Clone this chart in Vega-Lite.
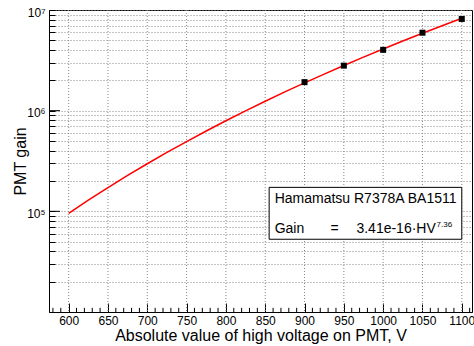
{
  "$schema": "https://vega.github.io/schema/vega-lite/v6.json",
  "width": 423,
  "height": 302,
  "autosize": "none",
  "padding": {"left": 49, "top": 10, "right": 2, "bottom": 34},
  "background": "white",
  "config": {
    "view": {"stroke": "black", "strokeWidth": 1},
    "font": "Liberation Sans",
    "axis": {
      "domainColor": "black",
      "tickColor": "black",
      "labelColor": "black",
      "titleColor": "black",
      "titleFontWeight": "normal",
      "titleFont": "Liberation Sans",
      "labelFont": "Liberation Sans",
      "gridColor": "#888888",
      "gridDash": [1, 2],
      "gridWidth": 1,
      "labelOverlap": false
    }
  },
  "datasets": {
    "curve": [
      {"hv": 600, "gain": 95500},
      {"hv": 625, "gain": 129000},
      {"hv": 650, "gain": 172100},
      {"hv": 675, "gain": 227300},
      {"hv": 700, "gain": 297000},
      {"hv": 725, "gain": 384500},
      {"hv": 750, "gain": 493400},
      {"hv": 775, "gain": 628200},
      {"hv": 800, "gain": 793500},
      {"hv": 825, "gain": 995200},
      {"hv": 850, "gain": 1239700},
      {"hv": 875, "gain": 1534700},
      {"hv": 900, "gain": 1888100},
      {"hv": 925, "gain": 2310100},
      {"hv": 950, "gain": 2810600},
      {"hv": 975, "gain": 3402500},
      {"hv": 1000, "gain": 4101100},
      {"hv": 1025, "gain": 4916000},
      {"hv": 1050, "gain": 5871000},
      {"hv": 1075, "gain": 6982900},
      {"hv": 1100, "gain": 8269700}
    ],
    "points": [
      {"hv": 900, "gain": 1920000},
      {"hv": 950, "gain": 2800000},
      {"hv": 1000, "gain": 4020000},
      {"hv": 1050, "gain": 5950000},
      {"hv": 1100, "gain": 8150000}
    ],
    "xmajor": [
      {"hv": 600}, {"hv": 650}, {"hv": 700}, {"hv": 750}, {"hv": 800}, {"hv": 850},
      {"hv": 900}, {"hv": 950}, {"hv": 1000}, {"hv": 1050}, {"hv": 1100}
    ],
    "xminor": [
      {"hv": 580}, {"hv": 590}, {"hv": 610}, {"hv": 620}, {"hv": 630}, {"hv": 640},
      {"hv": 660}, {"hv": 670}, {"hv": 680}, {"hv": 690}, {"hv": 710}, {"hv": 720},
      {"hv": 730}, {"hv": 740}, {"hv": 760}, {"hv": 770}, {"hv": 780}, {"hv": 790},
      {"hv": 810}, {"hv": 820}, {"hv": 830}, {"hv": 840}, {"hv": 860}, {"hv": 870},
      {"hv": 880}, {"hv": 890}, {"hv": 910}, {"hv": 920}, {"hv": 930}, {"hv": 940},
      {"hv": 960}, {"hv": 970}, {"hv": 980}, {"hv": 990}, {"hv": 1010}, {"hv": 1020},
      {"hv": 1030}, {"hv": 1040}, {"hv": 1060}, {"hv": 1070}, {"hv": 1080}, {"hv": 1090},
      {"hv": 1110}
    ],
    "ymajor": [
      {"gain": 100000}, {"gain": 1000000}
    ],
    "box": [
      {"x1": 855, "x2": 1100, "y1": 52800, "y2": 173000}
    ],
    "texts": [
      {"hv": 862, "gain": 131500, "t": "Hamamatsu R7378A BA1511"},
      {"hv": 862, "gain": 66400, "t": "Gain"},
      {"hv": 933, "gain": 66400, "t": "="},
      {"hv": 966, "gain": 66400, "t": "3.41e-16·HV"}
    ],
    "sup": [
      {"hv": 1068, "gain": 72600, "t": "7.36"}
    ]
  },
  "layer": [
    {
      "data": {"name": "xmajor"},
      "mark": {"type": "rule", "color": "#888888", "strokeDash": [1, 2], "strokeWidth": 1},
      "encoding": {
        "x": {
          "field": "hv", "type": "quantitative",
          "scale": {"domain": [575, 1113], "nice": false, "zero": false},
          "axis": {
            "title": "Absolute value of high voltage on PMT, V",
            "titleFontSize": 16,
            "titlePadding": 1,
            "labelFontSize": 12,
            "labelPadding": 12,
            "values": [600,650,700,750,800,850,900,950,1000,1050,1100],
            "labelOverlap": false,
            "labelFlush": false,
            "grid": false,
            "tickSize": -9,
            "format": "d"
          }
        }
      }
    },
    {
      "data": {"name": "curve"},
      "mark": {"type": "line", "color": "#ff0000", "strokeWidth": 1.5, "clip": true},
      "encoding": {
        "x": {"field": "hv", "type": "quantitative"},
        "y": {
          "field": "gain", "type": "quantitative",
          "scale": {"type": "log", "domain": [10000, 10000000], "nice": false},
          "axis": {
            "title": "PMT gain",
            "titleFontSize": 16,
            "titlePadding": -2,
            "labelFontSize": 12,
            "labelPadding": 10,
            "labelOffset": 2,
            "values": [20000,30000,40000,50000,60000,70000,80000,90000,100000,200000,300000,400000,500000,600000,700000,800000,900000,1000000,2000000,3000000,4000000,5000000,6000000,7000000,8000000,9000000,10000000],
            "labelExpr": "datum.value == 100000 ? '10⁵' : datum.value == 1000000 ? '10⁶' : datum.value == 10000000 ? '10⁷' : ''",
            "labelOverlap": false,
            "labelFlush": false,
            "grid": true,
            "tickSize": -6
          }
        }
      }
    },
    {
      "data": {"name": "xminor"},
      "mark": {"type": "rule", "color": "black", "strokeWidth": 1},
      "encoding": {
        "x": {"field": "hv", "type": "quantitative"},
        "y": {"datum": 10000, "type": "quantitative"},
        "y2": {"datum": 11000}
      }
    },
    {
      "data": {"name": "ymajor"},
      "mark": {"type": "rule", "color": "black", "strokeWidth": 1},
      "encoding": {
        "y": {"field": "gain", "type": "quantitative"},
        "x": {"datum": 575, "type": "quantitative"},
        "x2": {"datum": 589}
      }
    },
    {
      "data": {"name": "points"},
      "mark": {"type": "square", "color": "black", "filled": true, "opacity": 1, "size": 36},
      "encoding": {
        "x": {"field": "hv", "type": "quantitative"},
        "y": {"field": "gain", "type": "quantitative"}
      }
    },
    {
      "data": {"name": "box"},
      "mark": {"type": "rect", "fill": "white", "stroke": "black", "strokeWidth": 1},
      "encoding": {
        "x": {"field": "x1", "type": "quantitative"},
        "x2": {"field": "x2"},
        "y": {"field": "y1", "type": "quantitative"},
        "y2": {"field": "y2"}
      }
    },
    {
      "data": {"name": "texts"},
      "mark": {"type": "text", "align": "left", "baseline": "middle", "fontSize": 14, "color": "black", "font": "Liberation Sans"},
      "encoding": {
        "x": {"field": "hv", "type": "quantitative"},
        "y": {"field": "gain", "type": "quantitative"},
        "text": {"field": "t"}
      }
    },
    {
      "data": {"name": "sup"},
      "mark": {"type": "text", "align": "left", "baseline": "middle", "fontSize": 8, "color": "black", "font": "Liberation Sans"},
      "encoding": {
        "x": {"field": "hv", "type": "quantitative"},
        "y": {"field": "gain", "type": "quantitative"},
        "text": {"field": "t"}
      }
    }
  ]
}
